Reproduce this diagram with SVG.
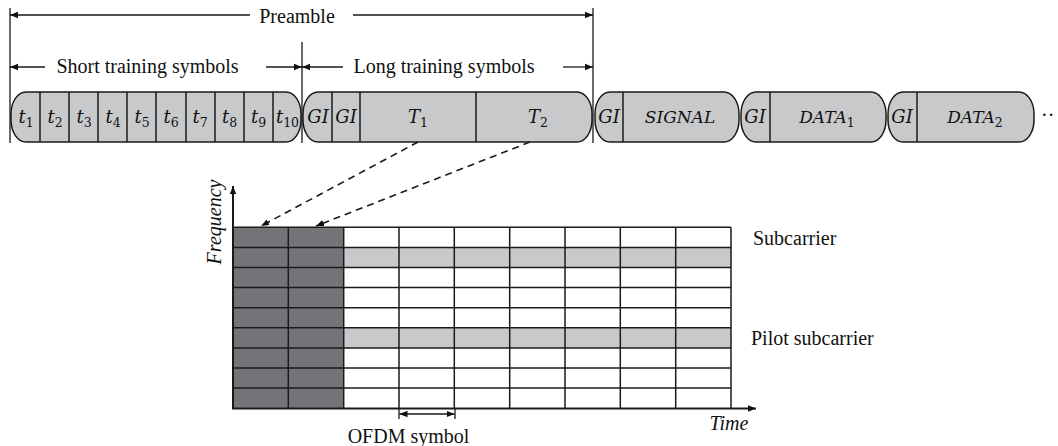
<svg xmlns="http://www.w3.org/2000/svg" width="1058" height="446" viewBox="0 0 1058 446">
<defs>
<marker id="ah" viewBox="0 0 10 10" refX="10" refY="5" markerWidth="8" markerHeight="8" markerUnits="userSpaceOnUse" orient="auto-start-reverse"><path d="M0,1 L10,5 L0,9 Z" fill="#111"/></marker>
</defs>
<style>
.lbl{font-family:"Liberation Serif",serif;font-size:20px;fill:#111}
.m{font-family:"DejaVu Serif","Liberation Serif",serif;font-style:italic;font-size:18px;fill:#111;text-anchor:middle}
.w{font-size:17px}
.sub{font-style:normal;font-size:12.5px}
.blk{fill:#c8c9cb;stroke:#1a1a1a;stroke-width:1.5}
.dv{stroke:#1a1a1a;stroke-width:1.5}
.ln{stroke:#1a1a1a;stroke-width:1.3;fill:none}
.dim{stroke:#1a1a1a;stroke-width:1.3;fill:none;marker-end:url(#ah)}
.g{stroke:#1a1a1a;stroke-width:1.5}
</style>
<rect width="1058" height="446" fill="#fff"/>

<g id="dimensions">
<line class="ln" x1="10" y1="8" x2="10" y2="143"/>
<line class="ln" x1="593" y1="8" x2="593" y2="143"/>
<line class="ln" x1="302" y1="42" x2="302" y2="143"/>
<line class="dim" x1="250" y1="15" x2="10" y2="15"/>
<line class="dim" x1="353" y1="15" x2="593" y2="15"/>
<text class="lbl" x="297" y="23" text-anchor="middle">Preamble</text>
<line class="dim" x1="45" y1="67" x2="10" y2="67"/>
<line class="dim" x1="266" y1="67" x2="302" y2="67"/>
<text class="lbl" x="147.5" y="73" text-anchor="middle">Short training symbols</text>
<line class="dim" x1="343" y1="67" x2="302" y2="67"/>
<line class="dim" x1="563" y1="67" x2="593" y2="67"/>
<text class="lbl" x="444" y="73" text-anchor="middle">Long training symbols</text>
</g>

<g id="short-training">
<rect class="blk" x="11" y="92" width="290" height="50" rx="15" ry="22"/>
<line class="dv" x1="40" y1="92" x2="40" y2="142"/>
<line class="dv" x1="69" y1="92" x2="69" y2="142"/>
<line class="dv" x1="98" y1="92" x2="98" y2="142"/>
<line class="dv" x1="127" y1="92" x2="127" y2="142"/>
<line class="dv" x1="156" y1="92" x2="156" y2="142"/>
<line class="dv" x1="186" y1="92" x2="186" y2="142"/>
<line class="dv" x1="215" y1="92" x2="215" y2="142"/>
<line class="dv" x1="244" y1="92" x2="244" y2="142"/>
<line class="dv" x1="273" y1="92" x2="273" y2="142"/>
<text class="m" x="26" y="123">t<tspan class="sub" dy="4">1</tspan></text>
<text class="m" x="55" y="123">t<tspan class="sub" dy="4">2</tspan></text>
<text class="m" x="84" y="123">t<tspan class="sub" dy="4">3</tspan></text>
<text class="m" x="113" y="123">t<tspan class="sub" dy="4">4</tspan></text>
<text class="m" x="142" y="123">t<tspan class="sub" dy="4">5</tspan></text>
<text class="m" x="171" y="123">t<tspan class="sub" dy="4">6</tspan></text>
<text class="m" x="200" y="123">t<tspan class="sub" dy="4">7</tspan></text>
<text class="m" x="229.5" y="123">t<tspan class="sub" dy="4">8</tspan></text>
<text class="m" x="258.5" y="123">t<tspan class="sub" dy="4">9</tspan></text>
<text class="m" x="287.5" y="123">t<tspan class="sub" dy="4">10</tspan></text>
</g>

<g id="long-training">
<rect class="blk" x="303" y="92" width="289" height="50" rx="15" ry="22"/>
<line class="dv" x1="332" y1="92" x2="332" y2="142"/>
<line class="dv" x1="360" y1="92" x2="360" y2="142"/>
<line class="dv" x1="476" y1="92" x2="476" y2="142"/>
<text class="m" x="318" y="123">GI</text>
<text class="m" x="346" y="123">GI</text>
<text class="m" x="418" y="123">T<tspan class="sub" dy="4">1</tspan></text>
<text class="m" x="538" y="123">T<tspan class="sub" dy="4">2</tspan></text>
</g>

<g id="signal">
<rect class="blk" x="595" y="92" width="144" height="50" rx="15" ry="22"/>
<line class="dv" x1="623" y1="92" x2="623" y2="142"/>
<text class="m" x="609" y="123">GI</text>
<text class="m w" x="680" y="123">SIGNAL</text>
</g>

<g id="data1">
<rect class="blk" x="741" y="92" width="145" height="50" rx="15" ry="22"/>
<line class="dv" x1="770" y1="92" x2="770" y2="142"/>
<text class="m" x="755" y="123">GI</text>
<text class="m w" x="827" y="123">DATA<tspan class="sub" dy="4">1</tspan></text>
</g>

<g id="data2">
<rect class="blk" x="888" y="92" width="146" height="50" rx="15" ry="22"/>
<line class="dv" x1="917" y1="92" x2="917" y2="142"/>
<text class="m" x="902" y="123">GI</text>
<text class="m w" x="975" y="123">DATA<tspan class="sub" dy="4">2</tspan></text>
</g>

<text id="ellipsis" class="lbl" x="1041" y="122">··</text>

<g id="grid">
<rect x="233" y="227.3" width="111" height="181" fill="#737477"/>
<rect x="344" y="227.3" width="387" height="181" fill="#fff"/>
<rect x="344" y="247.4" width="387" height="20.1" fill="#c8c9cb"/>
<rect x="344" y="327.8" width="387" height="20.1" fill="#c8c9cb"/>
<g class="g">
<line x1="233" y1="227.3" x2="731" y2="227.3"/>
<line x1="233" y1="247.4" x2="731" y2="247.4"/>
<line x1="233" y1="267.5" x2="731" y2="267.5"/>
<line x1="233" y1="287.6" x2="731" y2="287.6"/>
<line x1="233" y1="307.7" x2="731" y2="307.7"/>
<line x1="233" y1="327.8" x2="731" y2="327.8"/>
<line x1="233" y1="347.9" x2="731" y2="347.9"/>
<line x1="233" y1="368" x2="731" y2="368"/>
<line x1="233" y1="388.1" x2="731" y2="388.1"/>
<line x1="288.3" y1="227.3" x2="288.3" y2="408"/>
<line x1="343.7" y1="227.3" x2="343.7" y2="408"/>
<line x1="399" y1="227.3" x2="399" y2="408"/>
<line x1="454.3" y1="227.3" x2="454.3" y2="408"/>
<line x1="509.7" y1="227.3" x2="509.7" y2="408"/>
<line x1="565" y1="227.3" x2="565" y2="408"/>
<line x1="620.3" y1="227.3" x2="620.3" y2="408"/>
<line x1="675.7" y1="227.3" x2="675.7" y2="408"/>
<line x1="731" y1="227.3" x2="731" y2="408"/>
</g>
</g>

<g id="axes">
<line x1="233" y1="408.5" x2="233" y2="186" stroke="#1a1a1a" stroke-width="2" marker-end="url(#ah)"/>
<line x1="232" y1="408.5" x2="756" y2="408.5" stroke="#1a1a1a" stroke-width="2" marker-end="url(#ah)"/>
<text class="lbl" font-style="italic" font-size="18" x="0" y="0" text-anchor="middle" transform="translate(221,222) rotate(-90)">Frequency</text>
<text class="lbl" font-style="italic" font-size="18" x="729" y="430" text-anchor="middle">Time</text>
<text class="lbl" x="753" y="245">Subcarrier</text>
<text class="lbl" x="751" y="345">Pilot subcarrier</text>
</g>

<g id="ofdm-symbol">
<line class="ln" x1="399" y1="409" x2="399" y2="419"/>
<line class="ln" x1="455" y1="409" x2="455" y2="419"/>
<line x1="399.5" y1="414" x2="454.5" y2="414" stroke="#1a1a1a" stroke-width="1.3" marker-start="url(#ah)" marker-end="url(#ah)"/>
<text class="lbl" x="408.5" y="443" text-anchor="middle">OFDM symbol</text>
</g>

<g id="connectors">
<line x1="418" y1="142" x2="261" y2="226" stroke="#1a1a1a" stroke-width="1.6" stroke-dasharray="7 5" marker-end="url(#ah)"/>
<line x1="530" y1="142" x2="316" y2="226" stroke="#1a1a1a" stroke-width="1.6" stroke-dasharray="7 5" marker-end="url(#ah)"/>
</g>
</svg>
